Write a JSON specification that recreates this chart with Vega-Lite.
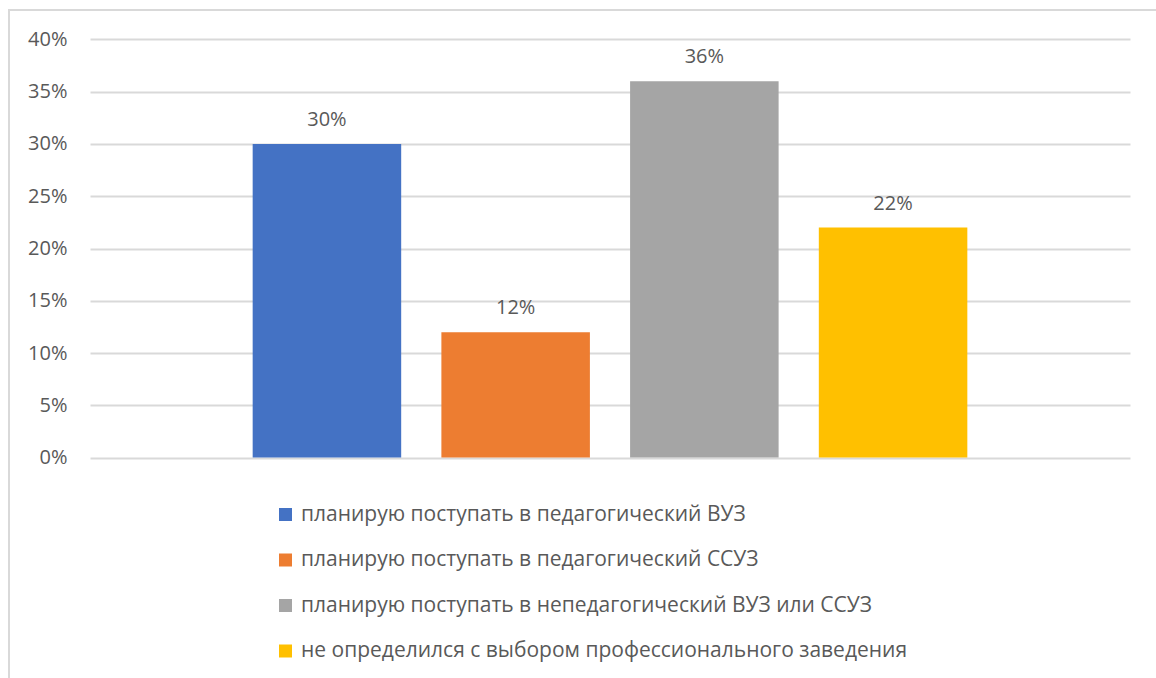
{
  "$schema": "https://vega.github.io/schema/vega-lite/v6.json",
  "autosize": {"type": "none"},
  "width": 1150,
  "height": 671,
  "padding": {"left": 9, "top": 10, "right": -3, "bottom": -3},
  "background": "white",
  "config": {
    "view": {"stroke": "#d9d9d9", "strokeWidth": 2},
    "font": "Open Sans"
  },
  "data": {
    "values": [
      {"cat": "планирую поступать в педагогический ВУЗ", "v": 0.30},
      {"cat": "планирую поступать в педагогический ССУЗ", "v": 0.12},
      {"cat": "планирую поступать в непедагогический ВУЗ или ССУЗ", "v": 0.36},
      {"cat": "не определился с выбором профессионального заведения", "v": 0.22}
    ]
  },
  "encoding": {
    "x": {
      "field": "cat",
      "type": "nominal",
      "sort": null,
      "scale": {"range": [81, 1121], "paddingInner": 0.213, "paddingOuter": 0.862},
      "axis": null
    },
    "y": {
      "field": "v",
      "type": "quantitative",
      "scale": {"domain": [0, 0.4], "range": [447.6, 29.4], "nice": false},
      "axis": {
        "format": ".0%",
        "values": [0, 0.05, 0.1, 0.15, 0.2, 0.25, 0.3, 0.35, 0.4],
        "offset": -81,
        "domain": false,
        "ticks": false,
        "tickSize": 0,
        "labelPadding": 23,
        "labelFontSize": 20,
        "labelColor": "#595959",
        "labelFont": "Open Sans",
        "gridColor": "#d9d9d9",
        "gridWidth": 2,
        "title": null
      }
    }
  },
  "layer": [
    {
      "mark": {"type": "bar"},
      "encoding": {
        "color": {
          "field": "cat",
          "type": "nominal",
          "sort": null,
          "scale": {
            "domain": [
              "планирую поступать в педагогический ВУЗ",
              "планирую поступать в педагогический ССУЗ",
              "планирую поступать в непедагогический ВУЗ или ССУЗ",
              "не определился с выбором профессионального заведения"
            ],
            "range": ["#4472c4", "#ed7d31", "#a5a5a5", "#ffc000"]
          },
          "legend": {
            "orient": "none",
            "legendX": 266,
            "legendY": 494,
            "direction": "vertical",
            "title": null,
            "padding": 0,
            "symbolType": "square",
            "symbolSize": 169,
            "symbolStrokeWidth": 0,
            "symbolOffset": 0,
            "labelFontSize": 21,
            "labelColor": "#595959",
            "labelFont": "Open Sans",
            "labelOffset": 5,
            "labelLimit": 1000,
            "rowPadding": 23.5
          }
        }
      }
    },
    {
      "mark": {"type": "text", "baseline": "alphabetic", "dy": -18, "fontSize": 20, "color": "#595959", "font": "Open Sans"},
      "encoding": {
        "text": {"field": "v", "type": "quantitative", "format": ".0%"}
      }
    }
  ]
}
